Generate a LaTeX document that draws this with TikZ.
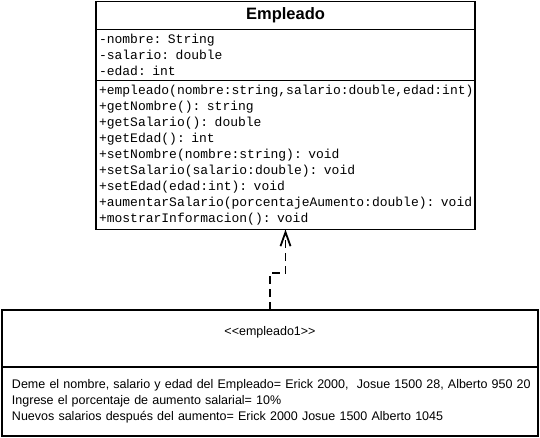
\documentclass[tikz,border=0pt]{standalone}
\usepackage{fontspec}
\usepackage{tikz}
\usetikzlibrary{arrows.meta}
\newfontfamily\mono{Liberation Mono}
\newfontfamily\sans{Liberation Sans}
\newcommand{\linea}[1]{\mbox{#1}}
\tikzset{
  caja/.style={draw=black,line width=1.6pt,inner sep=0pt,outer sep=0pt},
  codigo/.style={caja,font=\mono\fontsize{13}{16}\selectfont,align=left,
    text width=373pt,minimum width=379pt},
  texto/.style={caja,font=\sans\fontsize{12.5}{16}\selectfont,align=left,
    text width=516pt,minimum width=536pt},
  depende/.style={black,line width=1.8pt,dash pattern=on 8pt off 5pt,
    -{Straight Barb[length=14pt,width=10pt,line width=1.8pt]}},
}
\begin{document}
\begin{tikzpicture}[x=1pt,y=-1pt]
  \useasboundingbox (0,0) rectangle (540,438);
  % Clase Empleado
  \node[caja,minimum width=379pt,minimum height=28pt,
    font=\sans\bfseries\fontsize{16.5}{18}\selectfont] (titulo) at (285.5,15.5) {Empleado};
  \node[codigo,anchor=north,minimum height=51pt] (atributos) at (titulo.south)
    {-nombre: String\\-salario: double\\-edad: int};
  \node[codigo,anchor=north,minimum height=149pt] (metodos) at (atributos.south)
    {\linea{+empleado(nombre:string,salario:double,edad:int)}\\
     +getNombre(): string\\
     +getSalario(): double\\
     +getEdad(): int\\
     +setNombre(nombre:string): void\\
     +setSalario(salario:double): void\\
     +setEdad(edad:int): void\\
     \linea{+aumentarSalario(porcentajeAumento:double): void}\\
     +mostrarInformacion(): void};
  % Instancia empleado1
  \node[texto,minimum height=57pt,align=center,text depth=16pt] (instancia) at (270,338.5)
    {<<empleado1>>};
  \node[texto,anchor=north,minimum height=69pt] (salida) at (instancia.south)
    {\linea{Deme el nombre, salario y edad del Empleado= Erick 2000,\ \ Josue 1500 28, Alberto 950 20}\\
     Ingrese el porcentaje de aumento salarial= 10\%\\
     Nuevos salarios después del aumento= Erick 2000 Josue 1500 Alberto 1045};
  % Dependencia
  \coordinate (codo) at (278,273);
  \draw[depende] (instancia.north) |- (codo) -| (metodos.south);
\end{tikzpicture}
\end{document}
